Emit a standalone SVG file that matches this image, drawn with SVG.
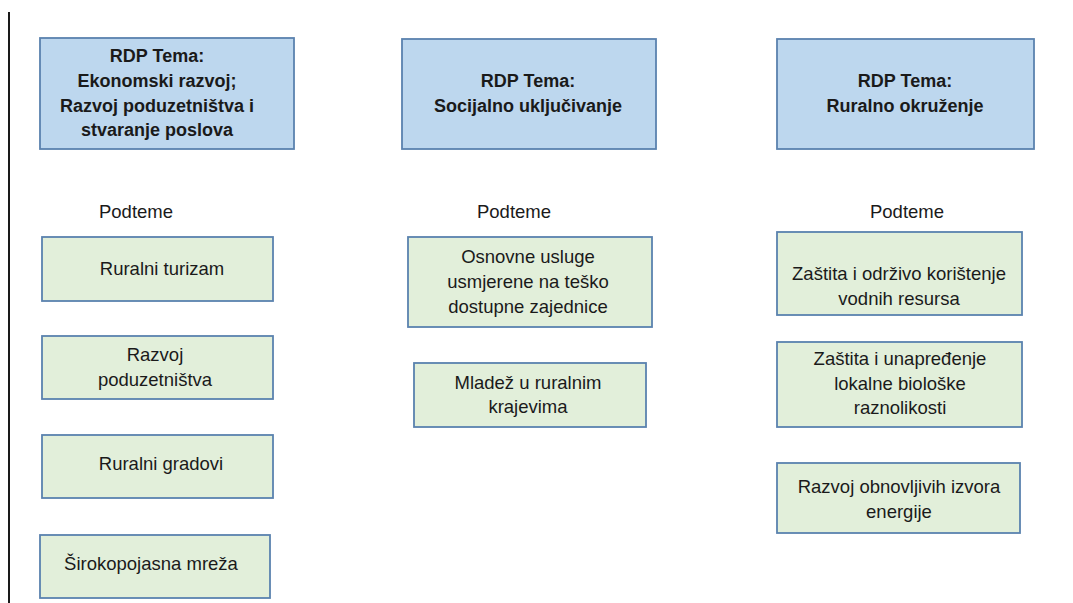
<svg xmlns="http://www.w3.org/2000/svg" width="1073" height="603" viewBox="0 0 1073 603">
<style>
.bg{fill:#ffffff}
.theme{fill:#BDD7EE;stroke:#5A82AE;stroke-width:1.8}
.sub{fill:#E2EFDA;stroke:#5A82AE;stroke-width:1.8}
text{font-family:"Liberation Sans",Arial,sans-serif;fill:#1a1a1a;text-anchor:middle}
.b{font-weight:bold;font-size:18px}
.r{font-size:18.5px}
</style>
<rect class="bg" x="0" y="0" width="1073" height="603"/>
<line x1="9" y1="12" x2="9" y2="603" stroke="#1a1a1a" stroke-width="2"/>
<g id="theme1">
<rect class="theme" x="40" y="38" width="254" height="111"/>
<text class="b" x="157" y="62">RDP Tema:</text>
<text class="b" x="157" y="87">Ekonomski razvoj;</text>
<text class="b" x="157" y="112">Razvoj poduzetništva i</text>
<text class="b" x="157" y="136">stvaranje poslova</text>
</g>
<g id="theme2">
<rect class="theme" x="402" y="39" width="254" height="110"/>
<text class="b" x="528" y="87">RDP Tema:</text>
<text class="b" x="528" y="112">Socijalno uključivanje</text>
</g>
<g id="theme3">
<rect class="theme" x="777" y="39" width="257" height="110"/>
<text class="b" x="905" y="87">RDP Tema:</text>
<text class="b" x="905" y="112">Ruralno okruženje</text>
</g>
<g id="label1"><text class="r" x="136" y="218">Podteme</text></g>
<g id="label2"><text class="r" x="514" y="218">Podteme</text></g>
<g id="label3"><text class="r" x="907" y="218">Podteme</text></g>
<g id="s1a">
<rect class="sub" x="42" y="237" width="231" height="64"/>
<text class="r" x="162" y="275">Ruralni turizam</text>
</g>
<g id="s1b">
<rect class="sub" x="42" y="336" width="231" height="63"/>
<text class="r" x="155" y="361">Razvoj</text>
<text class="r" x="155" y="386">poduzetništva</text>
</g>
<g id="s1c">
<rect class="sub" x="42" y="435" width="231" height="63"/>
<text class="r" x="161" y="470">Ruralni gradovi</text>
</g>
<g id="s1d">
<rect class="sub" x="40" y="535" width="230" height="63"/>
<text class="r" x="151" y="570">Širokopojasna mreža</text>
</g>
<g id="s2a">
<rect class="sub" x="408" y="237" width="244" height="90"/>
<text class="r" x="528" y="263">Osnovne usluge</text>
<text class="r" x="528" y="288">usmjerene na teško</text>
<text class="r" x="528" y="313">dostupne zajednice</text>
</g>
<g id="s2b">
<rect class="sub" x="414" y="363" width="232" height="64"/>
<text class="r" x="528" y="389">Mladež u ruralnim</text>
<text class="r" x="528" y="413">krajevima</text>
</g>
<g id="s3a">
<rect class="sub" x="777" y="232" width="245" height="83"/>
<text class="r" x="899" y="280">Zaštita i održivo korištenje</text>
<text class="r" x="899" y="305">vodnih resursa</text>
</g>
<g id="s3b">
<rect class="sub" x="777" y="342" width="245" height="85"/>
<text class="r" x="900" y="365">Zaštita i unapređenje</text>
<text class="r" x="900" y="390">lokalne biološke</text>
<text class="r" x="900" y="414">raznolikosti</text>
</g>
<g id="s3c">
<rect class="sub" x="777" y="463" width="243" height="70"/>
<text class="r" x="899" y="493">Razvoj obnovljivih izvora</text>
<text class="r" x="899" y="518">energije</text>
</g>
<g id="connectors"></g>
</svg>
